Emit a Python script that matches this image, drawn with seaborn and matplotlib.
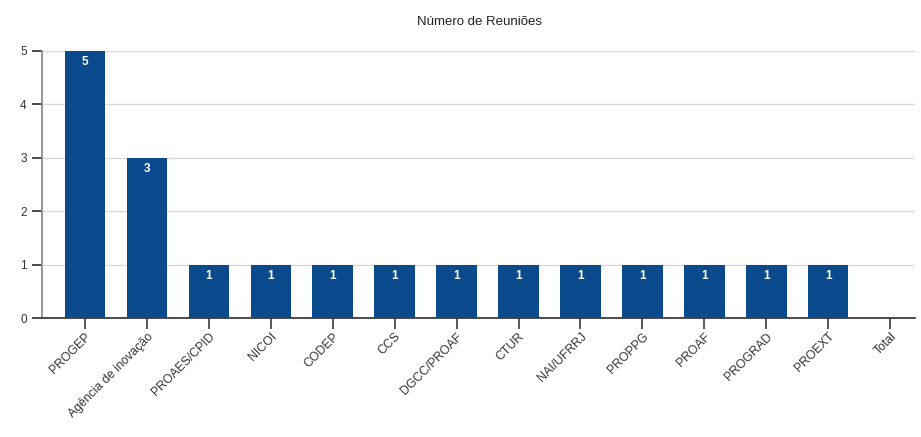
import matplotlib
matplotlib.use("Agg")
import matplotlib.pyplot as plt
import seaborn as sns
import pandas as pd

categories = ["PROGEP", "Agência de inovação", "PROAES/CPID", "NICOI", "CODEP", "CCS",
              "DGCC/PROAF", "CTUR", "NAI/UFRRJ", "PROPPG", "PROAF", "PROGRAD", "PROEXT", "Total"]
values = [5, 3, 1, 1, 1, 1, 1, 1, 1, 1, 1, 1, 1, 0]
yticks = [0, 1, 2, 3, 4, 5]
title = "Número de Reuniões"

sns.set_theme(style="white")
plt.rcParams['font.family'] = ['Liberation Sans', 'DejaVu Sans']

df = pd.DataFrame({"cat": categories, "val": values})
fig = plt.figure(figsize=(9.21, 4.37), dpi=100)
ax = fig.add_axes([0.0456, 0.2723, 0.9480, 0.6110])
sns.barplot(data=df, x="cat", y="val", color="#0b4a8c", saturation=1, width=0.65, ax=ax,
            zorder=3, linewidth=0, edgecolor="none")

ax.set_xlim(-0.69, 13.4)
ax.set_ylim(0, 5)
ax.set_yticks(yticks)
ax.yaxis.grid(True, color="#d9d9d9", linewidth=1, zorder=0)
ax.set_axisbelow(True)
ax.set_xlabel("")
ax.set_ylabel("")
for s in ["top", "right"]:
    ax.spines[s].set_visible(False)
ax.spines["left"].set_color("#888888")
ax.spines["bottom"].set_color("#333333")
ax.tick_params(axis="y", direction="out", length=7, color="#333333", labelsize=8.5, labelcolor="#333333", left=True, pad=4)
ax.tick_params(axis="x", direction="out", length=8, color="#444444", labelsize=8.8, labelcolor="#333333", bottom=True, pad=1)
plt.setp(ax.get_xticklabels(), rotation=45, ha="right", rotation_mode="anchor")

for i, v in enumerate(values):
    if v > 0:
        ax.text(i, v - 0.21, str(v), ha="center", va="center", color="white",
                fontsize=8.5, fontweight="bold", zorder=5)

fig.text(0.521, 0.95, title, ha="center", va="center", fontsize=9.5, color="#222222")
fig.savefig("out.png", dpi=100, facecolor="white")
